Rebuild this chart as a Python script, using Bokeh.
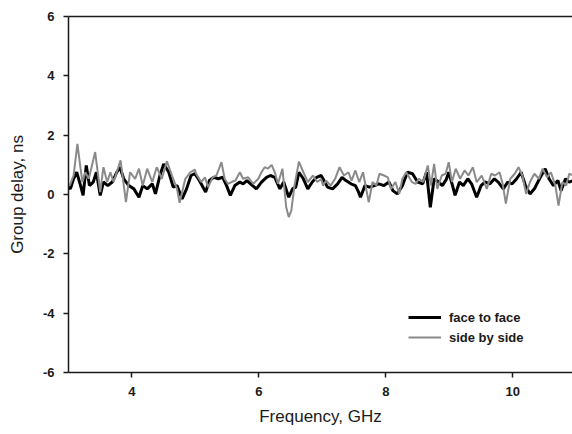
from bokeh.plotting import figure
from bokeh.models import LinearAxis, Legend, LegendItem, FixedTicker, Range1d, PrintfTickFormatter
from bokeh.embed import file_html
from bokeh.resources import INLINE

# face to face (black)
ff_x = [3.00, 3.03, 3.08, 3.13, 3.19, 3.23, 3.28, 3.33, 3.39, 3.44, 3.50, 3.55, 3.62, 3.69, 3.76,
        3.81, 3.87, 3.95, 4.03, 4.11, 4.17, 4.24, 4.32, 4.37, 4.44, 4.50, 4.58, 4.65, 4.71, 4.79,
        4.86, 4.93, 4.99, 5.03, 5.09, 5.16, 5.22, 5.29, 5.36, 5.43, 5.49, 5.55, 5.62, 5.70, 5.75,
        5.81, 5.90, 5.96, 6.04, 6.12, 6.18, 6.25, 6.33, 6.39, 6.47, 6.53, 6.58, 6.63, 6.70, 6.77,
        6.84, 6.91, 6.98, 7.01, 7.08, 7.16, 7.24, 7.31, 7.37, 7.45, 7.52, 7.57, 7.60, 7.67, 7.74,
        7.82, 7.89, 7.97, 8.05, 8.11, 8.18, 8.26, 8.34, 8.42, 8.50, 8.58, 8.64, 8.70, 8.76, 8.83,
        8.89, 8.95, 8.99, 9.05, 9.09, 9.16, 9.22, 9.29, 9.35, 9.43, 9.50, 9.56, 9.64, 9.71, 9.77,
        9.85, 9.92, 9.99, 10.06, 10.13, 10.20, 10.27, 10.34, 10.42, 10.51, 10.57, 10.64, 10.71,
        10.76, 10.83, 10.89, 10.95]
ff_y = [0.25, 0.19, 0.53, 0.75, 0.30, -0.03, 0.98, 0.30, 0.42, 0.75, -0.03, 0.42, 0.30, 0.42, 0.75,
        0.92, 0.53, 0.30, 0.19, -0.09, 0.30, 0.19, 0.36, 0.02, 0.64, 1.03, 0.75, 0.25, 0.30, -0.15,
        0.19, 0.64, 0.70, 0.58, 0.36, 0.08, 0.47, 0.58, 0.53, 0.58, 0.30, -0.03, 0.30, 0.42, 0.36,
        0.47, 0.30, 0.19, 0.42, 0.58, 0.64, 0.58, 0.19, 0.42, -0.09, 0.19, 0.25, 0.75, 0.53, 0.19,
        0.42, 0.58, 0.64, 0.53, 0.25, 0.19, 0.36, 0.58, 0.47, 0.36, 0.30, 0.08, -0.09, 0.30, 0.25,
        0.30, 0.36, 0.30, 0.42, 0.13, 0.02, 0.30, 0.75, 0.70, 0.42, 0.36, 0.75, -0.43, 0.53, 0.42,
        0.30, 0.50, 0.75, 0.30, -0.03, 0.42, 0.30, 0.53, 0.36, -0.09, 0.30, 0.42, 0.36, 0.53, 0.42,
        0.19, 0.42, 0.36, 0.53, 0.75, 0.30, 0.02, 0.19, 0.53, 0.87, 0.53, 0.30, 0.47,
        0.13, 0.53, 0.42, 0.47]

# side by side (gray)
sb_x = [3.02, 3.08, 3.14, 3.19, 3.22, 3.265, 3.32, 3.42, 3.50, 3.55, 3.61, 3.66, 3.71, 3.82, 3.905,
        3.97, 4.05, 4.11, 4.17, 4.24, 4.32, 4.39, 4.47, 4.55, 4.63, 4.71, 4.75, 4.84, 4.92, 4.99,
        5.01, 5.09, 5.15, 5.20, 5.27, 5.33, 5.41, 5.46, 5.51, 5.57, 5.63, 5.70, 5.75, 5.83, 5.91,
        5.99, 6.04, 6.09, 6.14, 6.20, 6.25, 6.30, 6.37, 6.43, 6.47, 6.51, 6.56, 6.63, 6.70, 6.77,
        6.85, 6.92, 6.98, 7.01, 7.06, 7.13, 7.20, 7.27, 7.34, 7.41, 7.46, 7.52, 7.58, 7.64, 7.73,
        7.79, 7.85, 7.90, 7.97, 8.03, 8.08, 8.15, 8.21, 8.26, 8.32, 8.41, 8.47, 8.52, 8.59, 8.66,
        8.71, 8.76, 8.81, 8.88, 8.94, 8.99, 9.04, 9.10, 9.17, 9.24, 9.30, 9.37, 9.43, 9.51, 9.59,
        9.66, 9.72, 9.79, 9.84, 9.89, 9.96, 10.03, 10.09, 10.15, 10.21, 10.27, 10.34, 10.41,
        10.47, 10.54, 10.60, 10.67, 10.72, 10.78, 10.84, 10.89, 10.95]
sb_y = [0.30, 0.64, 1.71, 0.87, 0.42, 0.75, 0.53, 1.43, 0.08, 0.92, 0.42, 0.75, 0.42, 1.15, -0.26,
        0.75, 0.53, 0.87, 0.30, 0.87, 0.42, 0.92, 0.53, 1.12, 0.64, 0.19, -0.28, 0.53, 0.75, 0.84,
        0.70, 0.42, 0.58, 0.25, 0.58, 0.64, 1.09, 0.53, 0.36, 0.42, 0.47, 0.75, 0.53, 0.58, 0.36,
        0.53, 0.75, 0.92, 0.87, 1.00, 0.75, 0.36, 0.87, -0.43, -0.76, -0.54, 0.30, 1.11, 0.75, 0.42,
        0.64, 0.42, 0.52, 0.30, 0.47, 0.30, 0.53, 0.92, 0.64, 0.75, 0.47, 0.81, 0.42, 0.75, -0.26,
        0.42, 0.30, 0.70, 0.64, 0.58, 0.19, 0.42, 0.02, 0.53, 0.75, 0.42, 0.36, 0.53, 0.42, 0.98,
        0.30, 1.03, 0.19, 0.64, 0.70, 1.09, 0.42, 0.87, 0.53, 0.81, 0.64, 0.92, 0.42, 0.64, 0.19,
        0.70, 0.64, 0.75, 0.36, -0.31, 0.53, 0.70, 0.92, 0.64, 0.02, 0.42, 0.70, 0.53,
        0.87, 0.58, 0.75, 0.30, -0.37, 0.42, 0.30, 0.70, 0.64]

x_ticks = [4, 6, 8, 10]
y_ticks = [-6, -4, -2, 0, 2, 4, 6]
series_names = ["face to face", "side by side"]

FONT = "Liberation Sans"
INK = "#1a1a1a"

p = figure(width=572, height=434, output_backend="svg", toolbar_location=None,
           x_range=Range1d(3, 10.94), y_range=Range1d(-6, 6),
           min_border_left=68, min_border_right=0, min_border_top=16, min_border_bottom=62,
           x_axis_label="Frequency, GHz", y_axis_label="Group delay, ns")
p.frame_width = 504
p.frame_height = 356
p.xgrid.visible = False
p.ygrid.visible = False
p.outline_line_color = None
p.background_fill_color = "white"
p.border_fill_color = "white"

for ax, ticks in ((p.xaxis[0], x_ticks), (p.yaxis[0], y_ticks)):
    ax.ticker = FixedTicker(ticks=ticks)
    ax.formatter = PrintfTickFormatter(format="%d")
    ax.minor_tick_line_color = None
    ax.major_tick_out = 5
    ax.major_tick_in = 0
    ax.axis_line_color = INK
    ax.axis_line_width = 1.5
    ax.major_tick_line_color = INK
    ax.major_tick_line_width = 1.5
    ax.major_label_text_font = FONT
    ax.major_label_text_font_style = "bold"
    ax.major_label_text_font_size = "13px"
    ax.major_label_text_color = INK
    ax.axis_label_text_font = FONT
    ax.axis_label_text_font_style = "normal"
    ax.axis_label_text_font_size = "17px"
    ax.axis_label_text_color = INK

p.xaxis.major_label_standoff = 9
p.xaxis.axis_label_standoff = 8
p.yaxis.major_label_standoff = 9
p.yaxis.axis_label_standoff = 13

top = LinearAxis(ticker=FixedTicker(ticks=[]), axis_line_color=INK, axis_line_width=1.5,
                 major_tick_line_color=None, minor_tick_line_color=None,
                 major_label_text_font_size="0px")
p.add_layout(top, "above")

r_ff = p.line(ff_x, ff_y, line_color="black", line_width=3)
r_sb = p.line(sb_x, sb_y, line_color="#8a8a8a", line_width=2)

legend = Legend(items=[LegendItem(label=series_names[0], renderers=[r_ff]),
                       LegendItem(label=series_names[1], renderers=[r_sb])],
                location=(340, 26), orientation="vertical",
                background_fill_alpha=0, border_line_color=None,
                label_text_font=FONT, label_text_font_style="bold", label_text_font_size="13px",
                label_text_color=INK, glyph_width=33, glyph_height=18, label_height=18,
                label_standoff=8, spacing=2, padding=0, margin=0)
p.add_layout(legend, "center")

open("out.html", "w").write(file_html(p, INLINE))
